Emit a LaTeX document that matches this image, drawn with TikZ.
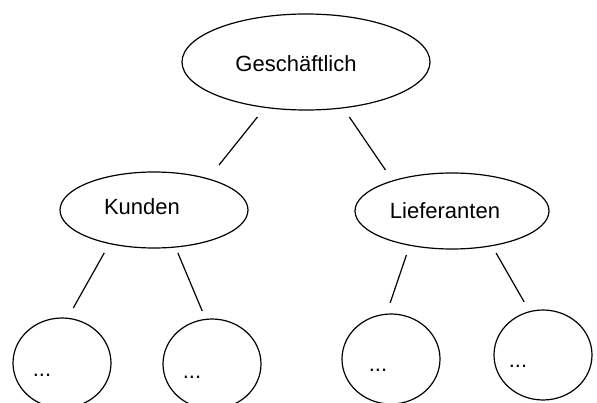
\documentclass[tikz,border=0pt]{standalone}
\usepackage{fontspec}
\setmainfont{Liberation Sans}
\usetikzlibrary{shapes.geometric}
\tikzset{
  blob/.style={draw, ellipse, line width=1.2pt, inner sep=0pt, outer sep=0pt},
  leaf/.style={blob, minimum width=98pt, minimum height=90pt},
  link/.style={line width=1.2pt},
  lbl/.style={anchor=base, inner sep=0pt, font=\fontsize{22}{26}\selectfont},
}
\begin{document}
\begin{tikzpicture}[x=1pt, y=-1pt]
\useasboundingbox (0,0) rectangle (597,403);
\clip (0,0) rectangle (597,403);
\node[blob, minimum width=248pt, minimum height=96pt] (top) at (306,62) {};
\node[blob, minimum width=188pt, minimum height=76pt] (kunden) at (154,210) {};
\node[blob, minimum width=194pt, minimum height=76pt] (lief) at (452,211) {};
\node[leaf] (leafA) at (62,363) {};
\node[leaf] (leafB) at (212,364) {};
\node[leaf] (leafC) at (391,359) {};
\node[leaf] (leafD) at (543,355) {};
\node[lbl] (topText) at (296,72) {Geschäftlich};
\node[lbl] (kundenText) at (142,215) {Kunden};
\node[lbl] (liefText) at (445,219) {Lieferanten};
\node[lbl] (dotsA) at (42,376) {...};
\node[lbl] (dotsB) at (192,378) {...};
\node[lbl] (dotsC) at (378,371) {...};
\node[lbl] (dotsD) at (518,367) {...};
\foreach \a/\ta/\sa/\b/\tb/\sb in {top/228.7/12.4/kunden/30.8/17.7, top/309.7/11.1/lief/153.3/13.2,
    kunden/217.7/10.8/leafA/83.5/11.8, kunden/300.2/6.4/leafB/98.3/9.1,
    lief/219.5/10.3/leafC/96.4/11.9, lief/319/8.5/leafD/107.2/11.2}
  \draw[link, shorten <=\sa pt, shorten >=\sb pt] (\a.\ta) -- (\b.\tb);
\end{tikzpicture}
\end{document}
